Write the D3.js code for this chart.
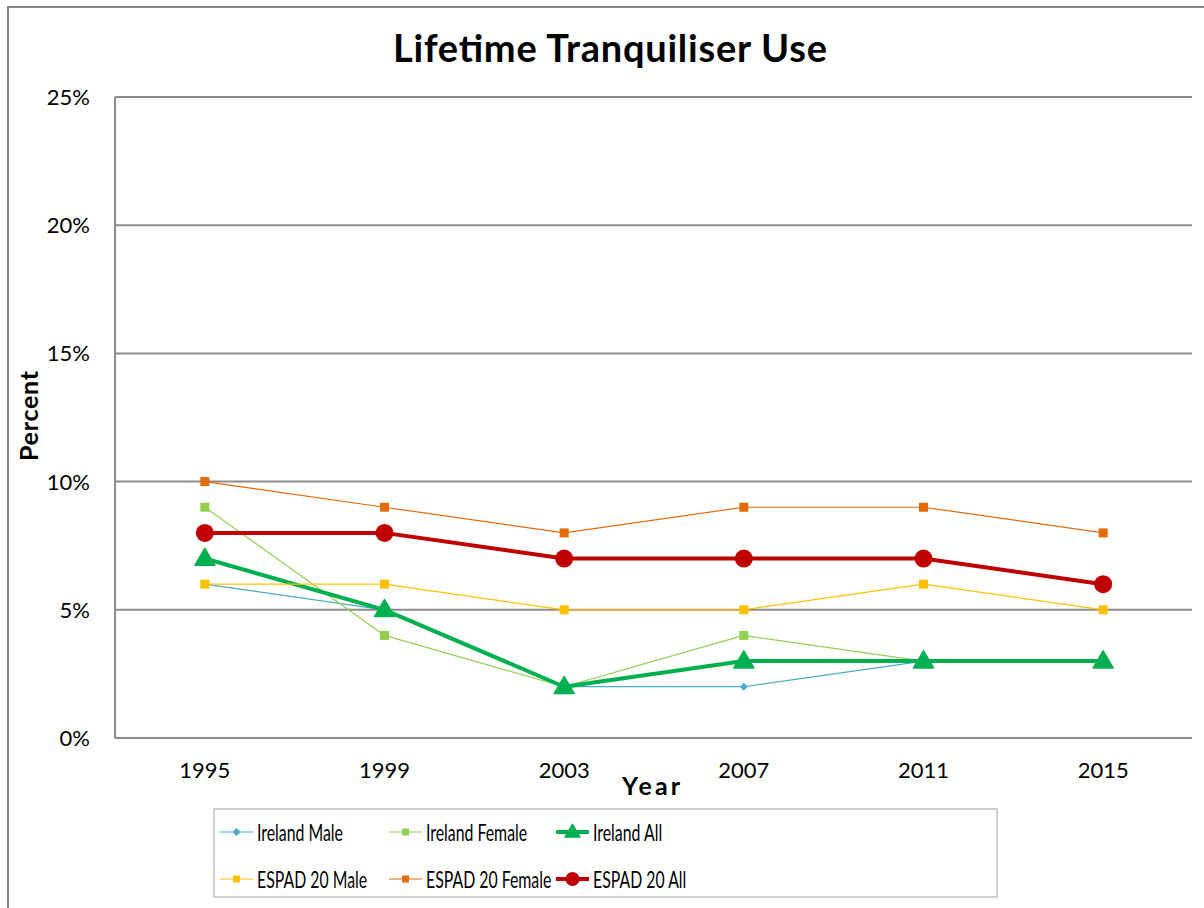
<!DOCTYPE html>
<html>
<head>
<meta charset="utf-8">
<script src="https://cdn.jsdelivr.net/npm/d3@7"></script>
<style>
  html, body { margin: 0; padding: 0; background: #fff; }
  svg text { font-family: Lato, "Open Sans", sans-serif; fill: #000; }
</style>
</head>
<body>
<svg id="chart" width="1204" height="908"></svg>
<script>
// Survey years and lifetime tranquiliser use (%)
const years = ["1995", "1999", "2003", "2007", "2011", "2015"];
const irelandMale   = [6, 5, 2, 2, 3, 3];
const irelandFemale = [9, 4, 2, 4, 3, 3];
const irelandAll    = [7, 5, 2, 3, 3, 3];
const espadMale     = [6, 6, 5, 5, 6, 5];
const espadFemale   = [10, 9, 8, 9, 9, 8];
const espadAll      = [8, 8, 7, 7, 7, 6];
const yTicks = [0, 5, 10, 15, 20, 25];

const series = [
  { name: "Ireland Male",      values: irelandMale,   color: "#4bacc6", width: 1.2, marker: "diamond",  size: 7 },
  { name: "Ireland Female",    values: irelandFemale, color: "#92d050", width: 1.2, marker: "square",   size: 9 },
  { name: "Ireland All",       values: irelandAll,    color: "#00b050", width: 4,   marker: "triangle", size: 20 },
  { name: "ESPAD 20 Male",     values: espadMale,     color: "#ffc000", width: 1.2, marker: "square",   size: 9 },
  { name: "ESPAD 20 Female",   values: espadFemale,   color: "#e36c09", width: 1.2, marker: "square",   size: 9 },
  { name: "ESPAD 20 All",      values: espadAll,      color: "#c00000", width: 4,   marker: "circle",   size: 9 }
];

const svg = d3.select("#chart");

// Outer chart frame
svg.append("rect")
  .attr("x", 8).attr("y", 7).attr("width", 1210).attr("height", 920)
  .attr("fill", "#fff").attr("stroke", "#868686").attr("stroke-width", 2);

const plot = { left: 115, right: 1193, top: 97, bottom: 738 };

const x = d3.scalePoint().domain(years).range([plot.left, plot.right]).padding(0.5);
const y = d3.scaleLinear().domain([0, 25]).range([plot.bottom, plot.top]);

// Horizontal gridlines
svg.append("g").selectAll("line").data(yTicks).join("line")
  .attr("x1", plot.left).attr("x2", plot.right - 1)
  .attr("y1", d => y(d)).attr("y2", d => y(d))
  .attr("stroke", "#8c8c8c").attr("stroke-width", 2);

// Y axis line
svg.append("line")
  .attr("x1", plot.left).attr("x2", plot.left)
  .attr("y1", plot.top).attr("y2", plot.bottom)
  .attr("stroke", "#8c8c8c").attr("stroke-width", 2);

// Y tick labels
svg.append("g").selectAll("text").data(yTicks).join("text")
  .attr("x", 90).attr("y", d => y(d))
  .attr("dy", "0.36em")
  .attr("text-anchor", "end")
  .style("font-size", "22px")
  .text(d => d + "%");

// X tick labels
svg.append("g").selectAll("text").data(years).join("text")
  .attr("x", d => x(d)).attr("y", 778)
  .attr("text-anchor", "middle")
  .style("font-size", "22px")
  .text(d => d);

// Title and axis titles
svg.append("text")
  .attr("x", 610).attr("y", 62)
  .attr("text-anchor", "middle")
  .attr("textLength", 434).attr("lengthAdjust", "spacing")
  .style("font-size", "38px").style("font-weight", "bold")
  .text("Lifetime Tranquiliser Use");

svg.append("text")
  .attr("transform", "translate(38,416) rotate(-90)")
  .attr("text-anchor", "middle")
  .attr("textLength", 90).attr("lengthAdjust", "spacing")
  .style("font-size", "25px").style("font-weight", "bold")
  .text("Percent");

svg.append("text")
  .attr("x", 651).attr("y", 795)
  .attr("text-anchor", "middle")
  .attr("textLength", 58).attr("lengthAdjust", "spacing")
  .style("font-size", "25px").style("font-weight", "bold")
  .text("Year");

// Marker drawing helper
function drawMarker(g, type, size, color, cx, cy) {
  if (type === "circle") {
    g.append("circle").attr("cx", cx).attr("cy", cy).attr("r", size).attr("fill", color);
  } else if (type === "square") {
    g.append("rect").attr("x", cx - size / 2).attr("y", cy - size / 2)
      .attr("width", size).attr("height", size).attr("fill", color);
  } else if (type === "diamond") {
    const h = size / 2 + 0.5;
    g.append("path").attr("d", `M${cx},${cy - h}L${cx + h},${cy}L${cx},${cy + h}L${cx - h},${cy}Z`)
      .attr("fill", color);
  } else if (type === "triangle") {
    const w = size / 2, hgt = size * 0.85;
    g.append("path")
      .attr("d", `M${cx},${cy - hgt * 0.6}L${cx + w},${cy + hgt * 0.4}L${cx - w},${cy + hgt * 0.4}Z`)
      .attr("fill", color).attr("stroke", color).attr("stroke-width", 1.5).attr("stroke-linejoin", "round");
  }
}

const line = d3.line().x((d, i) => x(years[i])).y(d => y(d));

series.forEach(s => {
  const g = svg.append("g");
  g.append("path").datum(s.values)
    .attr("d", line)
    .attr("fill", "none")
    .attr("stroke", s.color)
    .attr("stroke-width", s.width)
    .attr("stroke-linejoin", "round");
  s.values.forEach((v, i) => drawMarker(g, s.marker, s.size, s.color, x(years[i]), y(v)));
});

// Legend
svg.append("rect")
  .attr("x", 214).attr("y", 809).attr("width", 783).attr("height", 88)
  .attr("fill", "#fff").attr("stroke", "#c0c0c0").attr("stroke-width", 1.5);

const legendCols = [220, 389, 556];
const legendRows = [832, 879];
series.forEach((s, i) => {
  const lx = legendCols[i % 3], ly = legendRows[Math.floor(i / 3)];
  const g = svg.append("g");
  g.append("line").attr("x1", lx).attr("x2", lx + 33).attr("y1", ly).attr("y2", ly)
    .attr("stroke", s.color).attr("stroke-width", s.width);
  const ms = s.marker === "circle" ? 7 : s.marker === "triangle" ? 15 : 7;
  drawMarker(g, s.marker, ms, s.color, lx + 16.5, ly);
  // condensed legend lettering
  g.append("text")
    .attr("transform", `translate(${lx + 37},${ly}) scale(0.66,1)`)
    .attr("dy", "0.36em")
    .style("font-size", "24px").text(s.name);
});
</script>
</body>
</html>
